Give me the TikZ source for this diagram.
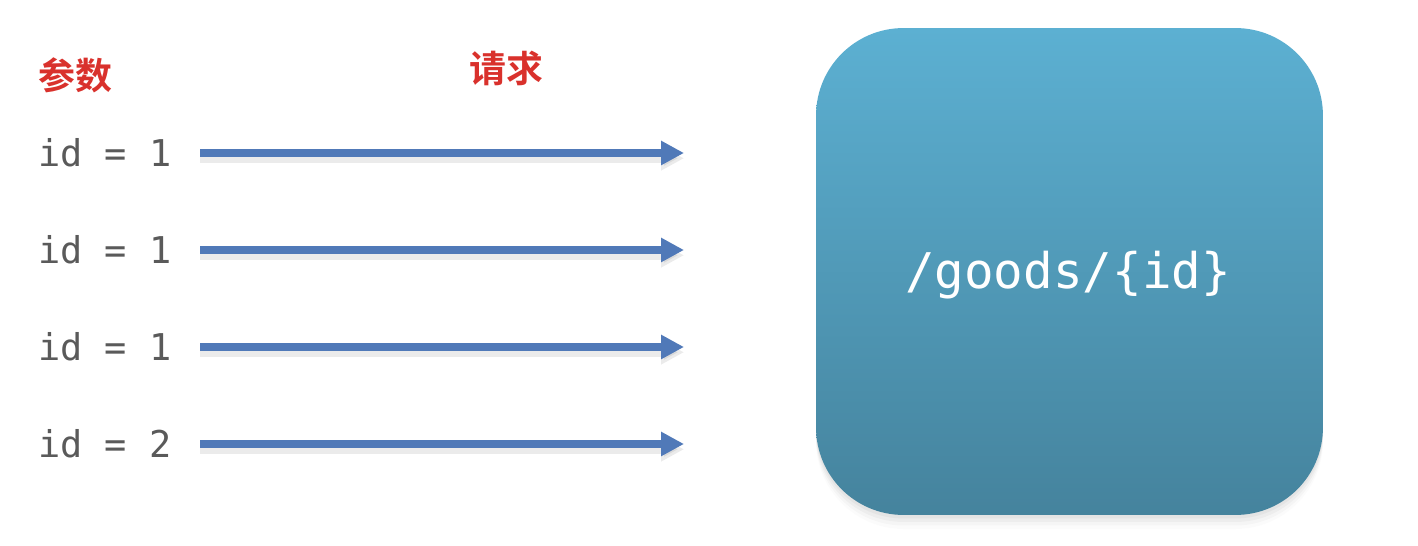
\documentclass[tikz,border=0pt]{standalone}
\usepackage{fontspec}
\setmonofont{DejaVu Sans Mono}
\newfontfamily\cjk{Noto Sans CJK SC}[BoldFont={Noto Sans CJK SC Bold}]
\usetikzlibrary{arrows.meta,shadows}
\definecolor{titlered}{HTML}{D9312C}
\definecolor{arrowblue}{HTML}{5079B8}
\definecolor{boxtop}{HTML}{5CB0D2}
\definecolor{boxbottom}{HTML}{45839D}
\definecolor{paramgray}{HTML}{5A5A5A}

\begin{document}
\begin{tikzpicture}[x=0.02cm,y=-0.02cm,
    title/.style={font=\cjk\bfseries\fontsize{21}{25}\selectfont,text=titlered},
    param/.style={anchor=west,inner sep=0pt,font=\ttfamily\fontsize{21}{25}\selectfont,text=paramgray},
    request/.style={draw=arrowblue,line width=4pt,-{Triangle[length=13pt,width=13pt]},
        preaction={draw=black,opacity=0.08,line width=5pt,transform canvas={yshift=-3pt}}},
    server/.style={rounded corners=1.75cm,minimum width=10.14cm,minimum height=9.74cm,
        top color=boxtop,bottom color=boxbottom,
        drop shadow={shadow xshift=0pt,shadow yshift=-2pt,opacity=0.08},
        drop shadow={shadow xshift=0pt,shadow yshift=-4pt,opacity=0.07},
        drop shadow={shadow xshift=0pt,shadow yshift=-6pt,opacity=0.05},
        drop shadow={shadow xshift=0pt,shadow yshift=-8pt,opacity=0.03}}]
    \useasboundingbox (0,0) rectangle (1418,546);
    % labels
    \node[title] (params) at (75,75) {参数};
    \node[title] (reqs) at (506,68) {请求};
    % parameters
    \node[param] (p1) at (38,153) {id = 1};
    \node[param] (p2) at (38,250) {id = 1};
    \node[param] (p3) at (38,347) {id = 1};
    \node[param] (p4) at (38,444) {id = 2};
    % requests
    \coordinate (s1) at (200,153); \coordinate (e1) at (684,153);
    \coordinate (s2) at (200,250); \coordinate (e2) at (684,250);
    \coordinate (s3) at (200,347); \coordinate (e3) at (684,347);
    \coordinate (s4) at (200,444); \coordinate (e4) at (684,444);
    \draw[request] (s1) -- (e1);
    \draw[request] (s2) -- (e2);
    \draw[request] (s3) -- (e3);
    \draw[request] (s4) -- (e4);
    % endpoint
    \node[server] (goods) at (1069.5,271.5) {};
    \node[font=\ttfamily\fontsize{28}{32}\selectfont,text=white] (path) at (1068,275) {/goods/\{id\}};
\end{tikzpicture}
\end{document}
